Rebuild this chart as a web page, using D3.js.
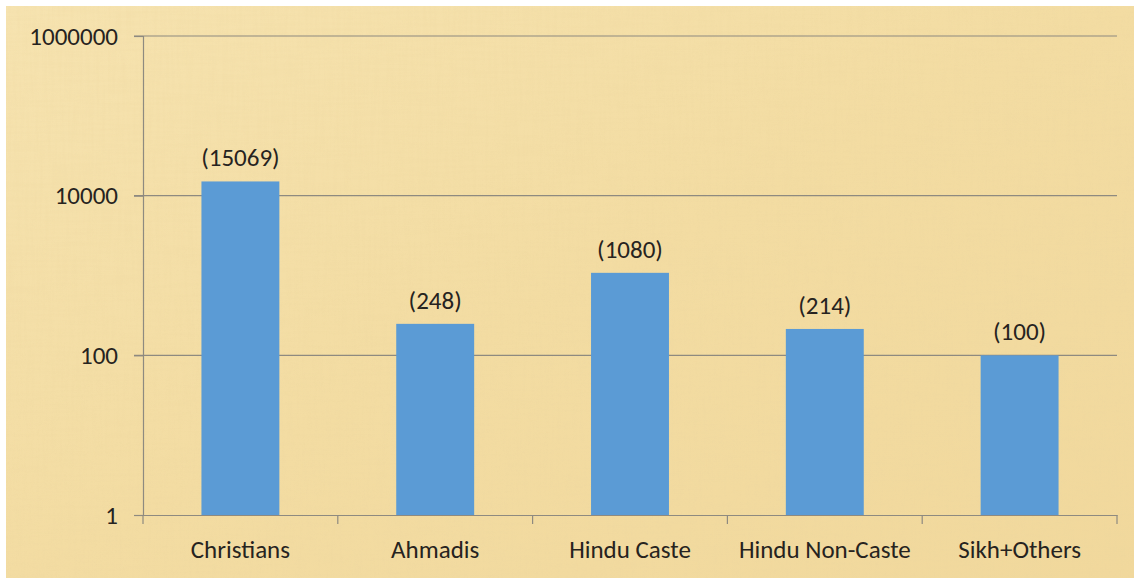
<!DOCTYPE html>
<html>
<head>
<meta charset="utf-8">
<script src="https://cdn.jsdelivr.net/npm/d3@7"></script>
<style>
  body { margin: 0; background: #fff; }
  svg text { font-family: Carlito, Lato, "Liberation Sans", sans-serif; fill: #262320; }
</style>
</head>
<body>
<div id="chart"></div>
<script>
// chart data
const categories = ['Christians', 'Ahmadis', 'Hindu Caste', 'Hindu Non-Caste', 'Sikh+Others'];
const counts = [15069, 248, 1080, 214, 100];
const yTicks = [1, 100, 10000, 1000000];

const WIDTH = 1137;
const HEIGHT = 578;
const MARGINS = {left: 143, right: 20, top: 36, bottom: 63};
const FONT = '25px';

const VIS_WIDTH = WIDTH - MARGINS.left - MARGINS.right;
const VIS_HEIGHT = HEIGHT - MARGINS.top - MARGINS.bottom;

const svg = d3.select('#chart')
  .append('svg')
    .attr('width', WIDTH)
    .attr('height', HEIGHT);

// parchment-like background
const defs = svg.append('defs');
const grad = defs.append('linearGradient')
  .attr('id', 'paper')
  .attr('x1', 0).attr('y1', 0).attr('x2', 1).attr('y2', 1);
grad.append('stop').attr('offset', '0%').attr('stop-color', '#f6e3b0');
grad.append('stop').attr('offset', '50%').attr('stop-color', '#f3dca2');
grad.append('stop').attr('offset', '100%').attr('stop-color', '#f1d89c');

function grain(id, freq, seed) {
  const f = defs.append('filter').attr('id', id)
    .attr('x', 0).attr('y', 0).attr('width', '100%').attr('height', '100%');
  f.append('feTurbulence')
    .attr('type', 'fractalNoise')
    .attr('baseFrequency', freq)
    .attr('numOctaves', 2)
    .attr('seed', seed)
    .attr('result', 'noise');
  f.append('feColorMatrix')
    .attr('in', 'noise')
    .attr('type', 'matrix')
    .attr('values', '0 0 0 0 0.85  0 0 0 0 0.68  0 0 0 0 0.35  0 0 0 -1.1 0.72')
    .attr('result', 'tint');
  f.append('feComposite').attr('in', 'tint').attr('in2', 'SourceGraphic').attr('operator', 'in');
}
grain('grainV', '0.35 0.02', 3);
grain('grainH', '0.02 0.35', 7);

svg.append('rect')
  .attr('x', 6).attr('y', 6)
  .attr('width', WIDTH - 9).attr('height', HEIGHT - 6)
  .attr('fill', 'url(#paper)');
['grainV', 'grainH'].forEach((id) => {
  svg.append('rect')
    .attr('x', 6).attr('y', 6)
    .attr('width', WIDTH - 9).attr('height', HEIGHT - 6)
    .attr('fill', '#000')
    .attr('opacity', 0.3)
    .attr('filter', 'url(#' + id + ')');
});

const g = svg.append('g')
  .attr('transform', 'translate(' + MARGINS.left + ',' + MARGINS.top + ')');

const xscale = d3.scaleBand()
  .domain(categories)
  .range([0, VIS_WIDTH])
  .paddingInner(0.6)
  .paddingOuter(0.3);

const yscale = d3.scaleLog()
  .domain([1, 1000000])
  .range([VIS_HEIGHT, 0]);

// gridlines
g.selectAll('.grid')
  .data(yTicks.slice(1))
  .enter()
  .append('line')
    .attr('x1', -9)
    .attr('x2', VIS_WIDTH)
    .attr('y1', (d) => yscale(d))
    .attr('y2', (d) => yscale(d))
    .attr('stroke', '#8e8a80')
    .attr('stroke-width', 1.2);

// bars
g.selectAll('.bar')
  .data(counts)
  .enter()
  .append('rect')
    .attr('x', (d, i) => xscale(categories[i]))
    .attr('y', (d) => yscale(d))
    .attr('width', xscale.bandwidth())
    .attr('height', (d) => VIS_HEIGHT - yscale(d))
    .attr('fill', '#5b9bd5');

// value labels
g.selectAll('.lbl')
  .data(counts)
  .enter()
  .append('text')
    .attr('x', (d, i) => xscale(categories[i]) + xscale.bandwidth() / 2)
    .attr('y', (d) => yscale(d) - 15)
    .attr('text-anchor', 'middle')
    .attr('font-size', FONT)
    .text((d) => '(' + d + ')');

// y axis
const yAxis = g.append('g')
  .call(d3.axisLeft(yscale).tickValues(yTicks).tickFormat(d3.format('d')).tickSize(9).tickPadding(16));
yAxis.select('.domain').attr('stroke', '#8e8a80').attr('stroke-width', 1.2);
yAxis.selectAll('.tick line').attr('stroke', '#8e8a80').attr('stroke-width', 1.2);
yAxis.selectAll('.tick text')
  .attr('font-size', FONT)
  .attr('font-family', null)
  .attr('fill', null);

// x axis
const xAxis = g.append('g')
  .attr('transform', 'translate(0,' + VIS_HEIGHT + ')')
  .call(d3.axisBottom(xscale).tickSize(0).tickPadding(25));
xAxis.select('.domain').attr('stroke', '#8e8a80').attr('stroke-width', 1.2);
xAxis.selectAll('.tick text')
  .attr('font-size', FONT)
  .attr('font-family', null)
  .attr('fill', null);

// category separators
g.selectAll('.sep')
  .data(d3.range(categories.length + 1))
  .enter()
  .append('line')
    .attr('x1', (i) => i * xscale.step())
    .attr('x2', (i) => i * xscale.step())
    .attr('y1', VIS_HEIGHT)
    .attr('y2', VIS_HEIGHT + 9)
    .attr('stroke', '#8e8a80')
    .attr('stroke-width', 1.2);
</script>
</body>
</html>
